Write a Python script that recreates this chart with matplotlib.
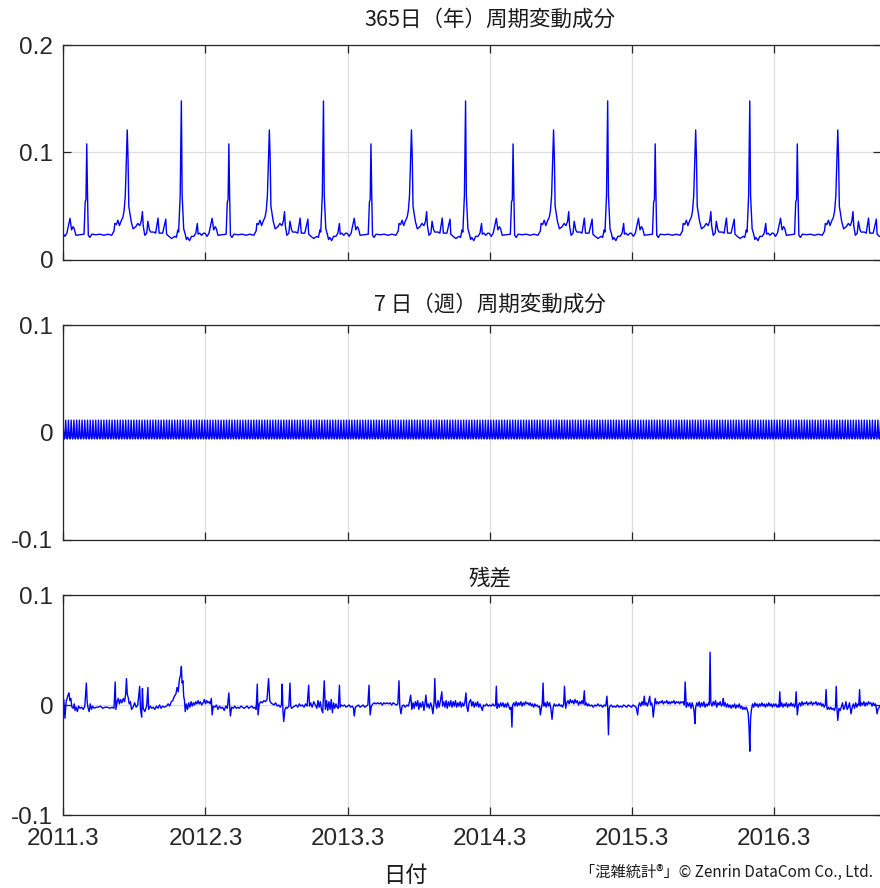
import numpy as np
import matplotlib
matplotlib.use("Agg")
import matplotlib.pyplot as plt

# ---------------- data ----------------
start_date = np.datetime64("2011-03-01")
end_date = np.datetime64("2016-11-30")

# yearly (365-day) component: one period, day offset from Mar 1 -> value
yr_day = [0, 5, 10, 18, 22, 26, 29, 33, 44, 54, 57, 59, 61, 63, 65, 69, 74, 85, 95, 105,
          115, 125, 131, 133, 137, 141, 145, 149, 154, 157, 160, 163, 165, 167, 169, 172, 175, 180, 187, 192,
          197, 201, 204, 206, 210, 215, 218, 222, 225, 233, 238, 244, 247, 256, 264, 266, 272, 279, 287, 291,
          295, 297, 301, 304, 306, 310, 314, 317, 320, 325, 330, 336, 341, 345, 347, 351, 356, 361, 364]
yr_val = [0.0248, 0.022, 0.025, 0.0388, 0.028, 0.031, 0.029, 0.023, 0.0235, 0.024, 0.054, 0.056, 0.108, 0.060, 0.023, 0.021, 0.024, 0.0235, 0.024, 0.023,
          0.024, 0.023, 0.027, 0.034, 0.033, 0.037, 0.032, 0.036, 0.040, 0.046, 0.060, 0.095, 0.121, 0.095, 0.050, 0.043, 0.036, 0.029, 0.031, 0.034,
          0.032, 0.036, 0.045, 0.032, 0.023, 0.025, 0.036, 0.028, 0.026, 0.026, 0.025, 0.039, 0.025, 0.025, 0.038, 0.024, 0.022, 0.020, 0.022, 0.021,
          0.028, 0.026, 0.060, 0.148, 0.060, 0.029, 0.024, 0.019, 0.021, 0.018, 0.022, 0.022, 0.025, 0.034, 0.024, 0.025, 0.023, 0.025, 0.0248]
yr_period = 365

# weekly (7-day) component: one period
wk_val = [0.0115, 0.0035, -0.0035, -0.0055, -0.006, -0.0045, 0.0045]

# residual: (day offset from 2011-03-01, value)
residual_points = [
    (0, 0.004), (2, 0.005), (5, -0.012), (8, 0.003), (13, 0.009), (15, 0.011), (18, 0.004), (20, 0.006), (23, -0.002), (26, -0.003),
    (29, 0.001), (31, -0.005), (34, -0.002), (37, -0.006), (40, -0.001), (44, -0.003), (48, -0.002), (52, -0.004), (56, -0.001), (60, 0.020),
    (62, 0.003), (64, -0.002), (67, -0.006), (70, 0.001), (73, -0.004), (76, -0.001), (80, -0.003), (85, -0.002), (90, -0.002), (96, -0.001),
    (102, -0.003), (108, -0.002), (114, -0.002), (120, -0.003), (126, -0.002), (131, -0.003), (134, 0.021), (136, -0.004), (139, 0.003), (142, 0.006),
    (145, 0.001), (148, 0.005), (151, 0.002), (155, 0.006), (158, 0.003), (161, 0.010), (163, 0.024), (165, 0.010), (168, 0.006), (170, 0.001),
    (173, 0.003), (176, -0.004), (180, -0.002), (184, 0.002), (188, -0.002), (192, 0.000), (197, 0.017), (199, -0.004), (202, -0.011), (204, 0.015),
    (206, -0.003), (210, -0.006), (215, -0.001), (218, 0.016), (220, -0.004), (224, -0.001), (228, -0.003), (232, -0.002), (236, -0.004), (240, -0.001),
    (244, -0.003), (248, 0.000), (252, -0.003), (256, -0.001), (260, -0.002), (266, -0.001), (270, 0.001), (274, -0.001), (278, 0.003), (282, 0.004),
    (286, 0.008), (290, 0.010), (293, 0.016), (296, 0.012), (298, 0.020), (300, 0.025), (302, 0.027), (304, 0.035), (306, 0.020), (308, 0.022),
    (310, 0.008), (312, 0.004), (314, -0.006), (317, 0.001), (320, -0.004), (323, 0.002), (326, -0.002), (329, 0.003), (332, -0.001), (335, 0.002),
    (338, 0.000), (341, 0.003), (344, 0.001), (347, 0.004), (350, 0.001), (353, 0.003), (356, 0.000), (360, 0.002), (363, 0.005), (366, 0.001),
    (369, 0.004), (372, 0.002), (375, 0.003), (378, 0.001), (381, 0.006), (383, -0.009), (386, -0.001), (390, -0.002), (394, 0.000), (398, -0.004),
    (402, -0.001), (406, -0.003), (410, -0.002), (414, -0.005), (418, -0.001), (422, -0.003), (426, 0.011), (428, -0.001), (430, -0.010), (433, -0.002),
    (437, -0.003), (441, -0.001), (445, -0.003), (449, -0.002), (453, -0.003), (457, -0.001), (461, -0.002), (465, -0.003), (469, -0.002), (473, -0.001),
    (477, -0.003), (481, -0.002), (485, -0.001), (489, -0.003), (493, -0.002), (496, -0.004), (499, 0.019), (501, -0.009), (504, 0.001), (508, 0.003),
    (512, 0.002), (516, 0.004), (520, 0.003), (524, 0.005), (528, 0.024), (531, 0.004), (534, 0.002), (538, 0.001), (542, 0.000), (546, 0.002),
    (550, -0.001), (554, 0.000), (558, -0.002), (561, 0.000), (563, 0.019), (565, -0.006), (567, -0.015), (570, -0.004), (573, -0.002), (576, -0.003),
    (580, -0.001), (583, 0.020), (585, -0.001), (587, -0.003), (591, -0.002), (595, -0.001), (599, 0.000), (603, -0.002), (607, 0.001), (611, -0.001),
    (615, 0.000), (619, -0.002), (623, 0.001), (627, -0.001), (631, 0.018), (633, -0.001), (636, 0.002), (640, -0.002), (644, 0.003), (648, 0.000),
    (652, -0.003), (655, 0.004), (658, -0.002), (661, 0.003), (664, -0.004), (667, -0.007), (671, 0.022), (674, -0.004), (677, 0.004), (680, -0.005),
    (683, 0.003), (686, -0.004), (689, 0.005), (692, -0.007), (695, 0.002), (698, -0.003), (701, 0.001), (704, -0.002), (707, -0.003), (710, 0.018),
    (712, -0.002), (715, 0.000), (719, -0.001), (723, 0.000), (727, -0.002), (731, -0.001),
    (735, 0.000), (739, -0.002), (743, -0.001), (746, -0.003), (748, -0.010), (751, -0.002), (755, -0.001), (759, 0.000), (763, -0.002), (767, -0.001),
    (771, 0.000), (775, -0.002), (779, -0.001), (783, 0.000), (786, 0.018), (788, -0.002), (789, -0.009), (792, -0.001), (796, 0.001), (800, 0.002),
    (804, 0.001), (808, 0.002), (812, 0.001), (816, 0.002), (820, 0.000), (824, 0.002), (828, 0.001), (832, 0.002), (836, 0.001), (840, 0.002),
    (844, 0.000), (848, 0.002), (852, 0.001), (856, 0.000), (860, 0.001), (863, 0.022), (865, -0.001), (868, -0.008), (871, -0.001), (875, 0.000),
    (879, -0.002), (883, 0.000), (887, -0.001), (890, 0.003), (893, 0.009), (896, -0.004), (899, 0.002), (902, -0.003), (905, 0.003), (908, -0.001),
    (911, 0.004), (914, -0.004), (917, 0.002), (920, -0.002), (924, 0.003), (927, -0.005), (930, 0.002), (932, 0.009), (935, -0.002), (938, 0.001),
    (941, -0.003), (944, 0.002), (947, -0.001), (950, -0.008), (953, 0.002), (955, 0.024), (957, 0.002), (960, -0.003), (963, 0.004), (966, -0.002),
    (969, 0.003), (973, 0.012), (975, -0.001), (978, 0.003), (981, -0.002), (984, 0.004), (987, -0.003), (990, 0.003), (993, -0.001), (996, 0.004),
    (999, -0.002), (1002, 0.003), (1005, -0.001), (1008, 0.004), (1011, -0.002), (1014, 0.002), (1017, -0.001), (1020, 0.003), (1023, -0.002), (1026, 0.002),
    (1029, -0.001), (1032, 0.002), (1035, 0.011), (1037, -0.001), (1040, -0.006), (1043, 0.002), (1047, 0.005), (1050, -0.001), (1053, 0.003), (1056, -0.002),
    (1059, 0.002), (1062, -0.001), (1065, 0.003), (1068, -0.002), (1071, 0.001), (1074, -0.002), (1077, -0.005), (1080, 0.000), (1084, -0.001), (1088, 0.001),
    (1092, -0.001), (1096, 0.000),
    (1100, -0.001), (1104, 0.001), (1108, -0.001), (1111, 0.000), (1113, 0.017), (1115, -0.003), (1118, 0.001), (1121, -0.002), (1124, 0.002), (1127, -0.001),
    (1130, 0.002), (1133, -0.002), (1136, 0.001), (1139, -0.002), (1142, 0.002), (1145, -0.001), (1148, -0.004), (1151, -0.002), (1153, -0.020), (1155, 0.000),
    (1158, 0.002), (1161, -0.001), (1164, 0.003), (1167, -0.001), (1170, 0.002), (1173, 0.000), (1176, 0.003), (1179, -0.001), (1182, 0.002), (1185, 0.000),
    (1188, 0.003), (1191, 0.001), (1194, 0.002), (1197, 0.000), (1200, 0.002), (1203, -0.001), (1206, 0.001), (1209, -0.002), (1212, 0.001), (1215, -0.001),
    (1218, 0.000), (1221, -0.002), (1224, -0.001), (1226, -0.009), (1229, -0.002), (1231, 0.002), (1233, 0.020), (1235, -0.001), (1238, 0.002), (1241, -0.002),
    (1244, 0.003), (1247, -0.001), (1250, 0.002), (1253, -0.003), (1256, -0.013), (1259, -0.002), (1262, 0.001), (1265, -0.001), (1268, 0.000), (1271, -0.001),
    (1274, 0.001), (1277, -0.001), (1280, 0.000), (1283, -0.002), (1286, 0.001), (1288, 0.017), (1291, -0.003), (1294, 0.002), (1297, 0.004), (1300, 0.001),
    (1303, 0.005), (1306, 0.002), (1309, 0.004), (1312, 0.001), (1315, 0.005), (1318, 0.002), (1321, 0.004), (1324, 0.000), (1327, 0.003), (1330, 0.001),
    (1333, 0.004), (1336, 0.001), (1339, 0.013), (1341, 0.000), (1344, 0.002), (1347, -0.001), (1350, 0.001), (1354, -0.001), (1358, 0.000), (1362, -0.002),
    (1366, 0.000), (1370, -0.001), (1374, 0.001), (1378, -0.001), (1382, 0.000), (1386, -0.002), (1390, 0.000), (1394, -0.001), (1397, 0.008), (1399, -0.002),
    (1401, -0.027), (1403, -0.003), (1405, -0.001), (1408, 0.000), (1412, -0.002), (1416, -0.001), (1420, -0.002), (1424, 0.000), (1428, -0.002), (1432, -0.001),
    (1436, -0.002), (1440, 0.000), (1444, -0.001), (1448, -0.002), (1452, 0.000), (1456, -0.001), (1460, -0.002),
    (1464, 0.000), (1468, -0.001), (1472, -0.002), (1476, -0.009), (1478, -0.001), (1481, 0.002), (1484, -0.001), (1487, 0.003), (1490, 0.000), (1493, 0.008),
    (1495, 0.000), (1498, 0.002), (1501, -0.001), (1504, 0.003), (1507, 0.008), (1509, 0.000), (1512, 0.002), (1514, -0.002), (1516, -0.011), (1519, -0.001),
    (1521, 0.006), (1524, 0.001), (1527, 0.003), (1530, 0.001), (1533, 0.003), (1536, 0.002), (1539, 0.004), (1542, 0.001), (1545, 0.003), (1548, 0.002),
    (1551, 0.004), (1554, 0.001), (1557, 0.003), (1560, 0.001), (1563, 0.003), (1566, 0.002), (1569, 0.004), (1572, 0.001), (1575, 0.003), (1578, 0.002),
    (1581, 0.003), (1584, 0.001), (1587, 0.003), (1590, 0.002), (1593, 0.003), (1596, 0.000), (1598, 0.021), (1601, -0.002), (1604, 0.002), (1607, -0.001),
    (1610, 0.002), (1613, -0.003), (1616, 0.002), (1619, -0.002), (1621, -0.006), (1623, -0.017), (1625, -0.002), (1628, 0.002), (1631, -0.001), (1634, 0.003),
    (1637, -0.002), (1640, 0.002), (1643, -0.001), (1646, 0.003), (1649, -0.002), (1652, 0.001), (1655, -0.001), (1658, 0.002), (1660, 0.000), (1662, 0.048),
    (1664, 0.002), (1667, -0.001), (1670, 0.003), (1673, 0.000), (1676, 0.004), (1679, -0.002), (1682, 0.002), (1685, 0.000), (1688, 0.003), (1691, -0.001),
    (1694, 0.001), (1696, 0.006), (1698, -0.001), (1701, 0.002), (1704, -0.002), (1707, 0.001), (1710, -0.002), (1713, 0.000), (1716, -0.003), (1719, 0.000),
    (1722, -0.002), (1725, 0.001), (1728, -0.003), (1731, 0.000), (1734, -0.002), (1737, 0.001), (1740, -0.003), (1743, -0.001), (1746, -0.004), (1749, -0.002),
    (1752, -0.004), (1755, -0.002), (1758, -0.005), (1760, -0.008), (1762, -0.020), (1764, -0.042), (1766, -0.012), (1768, -0.005), (1771, 0.001), (1774, -0.002),
    (1777, 0.002), (1780, -0.001), (1783, 0.001), (1786, -0.002), (1789, 0.001), (1792, -0.001), (1795, 0.002), (1798, -0.001), (1801, 0.001), (1804, -0.002),
    (1807, 0.001), (1810, -0.001), (1813, 0.002), (1816, -0.001), (1819, 0.001), (1822, -0.002), (1825, 0.001),
    (1828, -0.001), (1831, 0.001), (1834, -0.002), (1837, 0.000), (1839, -0.002), (1841, 0.012), (1843, -0.001), (1846, 0.002), (1849, -0.002), (1852, 0.001),
    (1855, -0.001), (1858, 0.002), (1861, -0.002), (1864, 0.001), (1867, -0.001), (1870, 0.002), (1873, -0.001), (1876, 0.001), (1879, -0.002), (1881, 0.000),
    (1883, 0.012), (1885, -0.002), (1886, -0.009), (1889, 0.000), (1892, 0.002), (1895, -0.001), (1898, 0.003), (1901, 0.000), (1904, 0.002), (1907, 0.001),
    (1910, 0.003), (1913, 0.000), (1916, 0.002), (1919, 0.001), (1922, 0.003), (1925, 0.000), (1928, 0.002), (1931, 0.001), (1934, 0.003), (1937, 0.000),
    (1940, 0.002), (1943, 0.000), (1946, 0.002), (1949, -0.001), (1952, 0.001), (1955, -0.002), (1958, 0.000), (1960, 0.014), (1962, -0.002), (1963, -0.004),
    (1966, -0.002), (1969, -0.004), (1972, -0.002), (1975, -0.004), (1978, -0.003), (1981, -0.005), (1984, -0.002), (1986, 0.017), (1988, -0.004), (1990, -0.014),
    (1993, -0.003), (1996, -0.005), (1999, -0.002), (2002, 0.002), (2005, -0.004), (2008, -0.002), (2011, 0.003), (2014, -0.004), (2017, -0.002), (2020, 0.002),
    (2022, -0.003), (2024, -0.008), (2027, -0.002), (2030, 0.001), (2033, -0.003), (2036, 0.002), (2039, -0.002), (2042, 0.001), (2044, 0.000), (2046, 0.014),
    (2048, -0.001), (2051, 0.002), (2054, 0.000), (2057, 0.003), (2060, -0.001), (2063, 0.002), (2066, 0.000), (2069, 0.003), (2072, 0.001), (2075, 0.002),
    (2078, -0.001), (2081, 0.002), (2084, 0.000), (2087, 0.001), (2089, -0.003), (2091, -0.008), (2093, -0.004), (2100, 0.000),
]

tick_years = [2011, 2012, 2013, 2014, 2015, 2016]
tick_labels = ["2011.3", "2012.3", "2013.3", "2014.3", "2015.3", "2016.3"]

titles = ["365日（年）周期変動成分", "7 日（週）周期変動成分", "残差"]
xlabel = "日付"
credit = "「混雑統計®」© Zenrin DataCom Co., Ltd."

# ---------------- build series ----------------
n_days = int((end_date - start_date).astype(int)) + 1
n_periods = n_days // yr_period + 1
yr_d = np.concatenate([np.array(yr_day) + yr_period * k for k in range(n_periods)])
yr_v = np.tile(np.array(yr_val), n_periods)
keep = yr_d < n_days
yr_x = start_date + yr_d[keep].astype("timedelta64[D]")
yr_v = yr_v[keep]

wk_d = np.arange(n_days)
wk_x = start_date + wk_d.astype("timedelta64[D]")
wk_v = np.array(wk_val)[wk_d % len(wk_val)]

res_d = np.array([p[0] for p in residual_points])
res_v = np.array([p[1] for p in residual_points])
res_x = start_date + res_d.astype("timedelta64[D]")

# ---------------- figure ----------------
W, H = 880, 888
fig = plt.figure(figsize=(W / 100, H / 100), dpi=100)

tick_font = "Liberation Sans"
cjk = ["Noto Sans CJK JP", "DejaVu Sans"]
axis_color = "#262626"

left_px, right_px = 63, 881
panels = [
    dict(top=45, bottom=260, ylim=(0, 0.2), yticks=[0, 0.1, 0.2], ylabels=["0", "0.1", "0.2"],
         x=yr_x, y=yr_v, title_y=20),
    dict(top=325, bottom=540, ylim=(-0.1, 0.1), yticks=[-0.1, 0, 0.1], ylabels=["-0.1", "0", "0.1"],
         x=wk_x, y=wk_v, title_y=305),
    dict(top=595, bottom=815, ylim=(-0.1, 0.1), yticks=[-0.1, 0, 0.1], ylabels=["-0.1", "0", "0.1"],
         x=res_x, y=res_v, title_y=578),
]

xticks = [np.datetime64(f"{y}-03-01") for y in tick_years]

for i, p in enumerate(panels):
    ax = fig.add_axes([left_px / W, 1 - p["bottom"] / H,
                       (right_px - left_px) / W, (p["bottom"] - p["top"]) / H])
    ax.plot(p["x"], p["y"], color=(0, 0, 1), linewidth=1.0)
    ax.set_xlim(start_date, end_date)
    ax.set_ylim(*p["ylim"])
    ax.set_yticks(p["yticks"])
    ax.set_yticklabels(p["ylabels"])
    ax.set_xticks(xticks)
    if i == 2:
        ax.set_xticklabels(tick_labels)
    else:
        ax.set_xticklabels([])
    ax.grid(True, color="#dedede", linewidth=0.9)
    ax.set_axisbelow(True)
    ax.tick_params(axis="both", direction="in", length=6, width=0.9, color=axis_color,
                   top=True, right=True, labelsize=17.5, labelcolor=axis_color)
    ax.tick_params(axis="y", pad=7)
    ax.tick_params(axis="x", pad=9)
    for lab in ax.get_xticklabels() + ax.get_yticklabels():
        lab.set_family(tick_font)
    for s in ax.spines.values():
        s.set_color(axis_color)
        s.set_linewidth(0.9)
    fig.text(490 / W, 1 - p["title_y"] / H, titles[i], family=cjk, fontsize=15.5,
             color="#1a1a1a", ha="center", va="center")

fig.text(405 / W, 1 - 875 / H, xlabel, family=cjk, fontsize=16, color="#1a1a1a",
         ha="center", va="center")
fig.text(873 / W, 1 - 872 / H, credit, family=cjk, fontsize=11, color="#1a1a1a",
         ha="right", va="center")

fig.savefig("out.png", dpi=100)
